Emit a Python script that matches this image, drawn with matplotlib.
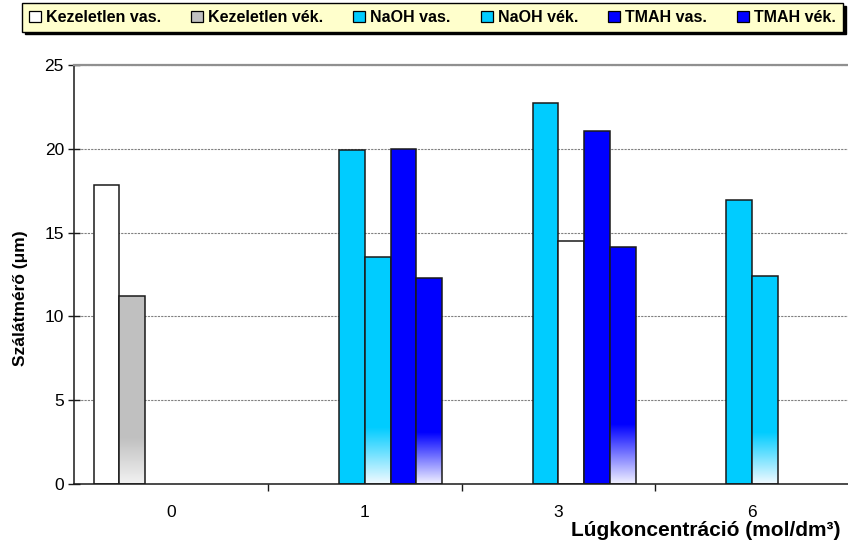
import numpy as np
import matplotlib
matplotlib.use("Agg")
import matplotlib.pyplot as plt
from matplotlib.colors import LinearSegmentedColormap
from matplotlib.patches import Patch

plt.rcParams['font.family'] = ['Liberation Sans', 'DejaVu Sans']

categories = ["0", "1", "3", "6"]
series_names = ["Kezeletlen vas.", "Kezeletlen vék.", "NaOH vas.", "NaOH vék.", "TMAH vas.", "TMAH vék."]
kezeletlen_vas = [17.85, np.nan, np.nan, np.nan]
kezeletlen_vek = [11.2, np.nan, np.nan, np.nan]
naoh_vas = [np.nan, 19.9, 22.75, 16.95]
naoh_vek = [np.nan, 13.55, 14.5, 12.4]
tmah_vas = [np.nan, 20.0, 21.05, np.nan]
tmah_vek = [np.nan, 12.3, 14.15, np.nan]

series_values = [kezeletlen_vas, kezeletlen_vek, naoh_vas, naoh_vek, tmah_vas, tmah_vek]
series_colors = ["#FFFFFF", "#C0C0C0", "#00CCFF", "#00CCFF", "#0000FF", "#0000FF"]
gradient_bottom = [None, "#F2F2F2", None, "#F2FAFF", None, "#F2F2FF"]
# per-point override: NaOH vék at category "3" is white in the original
point_colors = {(3, 2): "#FFFFFF"}

fig = plt.figure(figsize=(8.48, 5.48), dpi=100)
ax = fig.add_axes([74.3 / 848, 64 / 548, (849 - 74.3) / 848, 419 / 548])

n = len(series_values)
w = 1 / 7.5
x = np.arange(len(categories))
grad = np.linspace(0, 1, 128).reshape(-1, 1)

for j, (vals, col) in enumerate(zip(series_values, series_colors)):
    vals = np.array(vals, dtype=float)
    cols = [point_colors.get((j, i), col) for i in range(len(vals))]
    pos = x + (j - (n - 1) / 2) * w
    bars = ax.bar(pos, vals, width=w, color=cols, edgecolor='none', zorder=2 + j * 0.01)
    if gradient_bottom[j] is not None:
        for i, p in enumerate(bars):
            h = p.get_height()
            if not np.isfinite(h) or h == 0 or (j, i) in point_colors:
                continue
            c = cols[i]
            cmap = LinearSegmentedColormap.from_list('g', [gradient_bottom[j], c])
            ax.imshow(grad, cmap=cmap, origin='lower', aspect='auto',
                      extent=(p.get_x(), p.get_x() + p.get_width(), 0, h * 0.25),
                      interpolation='bilinear', zorder=2.005 + j * 0.01)
    ax.bar(pos, vals, width=w, facecolor='none', edgecolor='#1a1a1a', linewidth=1.1,
           zorder=2.008 + j * 0.01)

ax.set_xlim(-0.5, len(categories) - 0.5)
ax.set_ylim(0, 25)
ax.set_yticks([0, 5, 10, 15, 20, 25])
ax.set_xticks(x)
ax.set_xticklabels(categories)
ax.set_xticks(x[:-1] + 0.5, minor=True)
ax.tick_params(axis='x', which='major', length=0, pad=15, labelsize=12.5)
ax.tick_params(axis='x', which='minor', length=5, width=1, direction='out', color='#1a1a1a')
ax.tick_params(axis='y', direction='inout', length=9, width=1, pad=3, labelsize=12.5, color='#1a1a1a')

ax.grid(axis='y', color='#808080', linestyle=(0, (2, 1)), linewidth=0.8, zorder=0)
ax.set_axisbelow(True)
ax.spines['right'].set_visible(False)
ax.spines['top'].set_color('#909090')
ax.spines['top'].set_linewidth(1.6)
for s in ('left', 'bottom'):
    ax.spines[s].set_color('#1a1a1a')
    ax.spines[s].set_linewidth(1.1)

ax.set_ylabel("Szálátmérő (μm)", fontsize=12.5, fontweight='bold')
ax.yaxis.set_label_coords((28 - 74.3) / (849 - 74.3), (484 - 298) / 419)
ax.set_xlabel("Lúgkoncentráció (mol/dm³)", fontsize=15, fontweight='bold')
ax.xaxis.set_label_coords((840 - 74.3) / (849 - 74.3), (484 - 530) / 419)
ax.xaxis.label.set_ha('right')
ax.xaxis.label.set_va('center')

handles = [Patch(facecolor=c, edgecolor='black', linewidth=0.9) for c in series_colors]
leg = fig.legend(handles, series_names, loc='center', ncol=6,
                 bbox_to_anchor=(432.5 / 848, 1 - 17.5 / 548),
                 prop={'weight': 'bold', 'size': 11.5},
                 handlelength=0.75, handleheight=0.75, handletextpad=0.3,
                 columnspacing=1.9, borderpad=0.42, borderaxespad=0, fancybox=False,
                 facecolor='#FFFFCC', edgecolor='black', framealpha=1,
                 shadow={'color': 'black', 'alpha': 1})
leg.get_frame().set_linewidth(1.0)

fig.savefig("out.png", dpi=100)
